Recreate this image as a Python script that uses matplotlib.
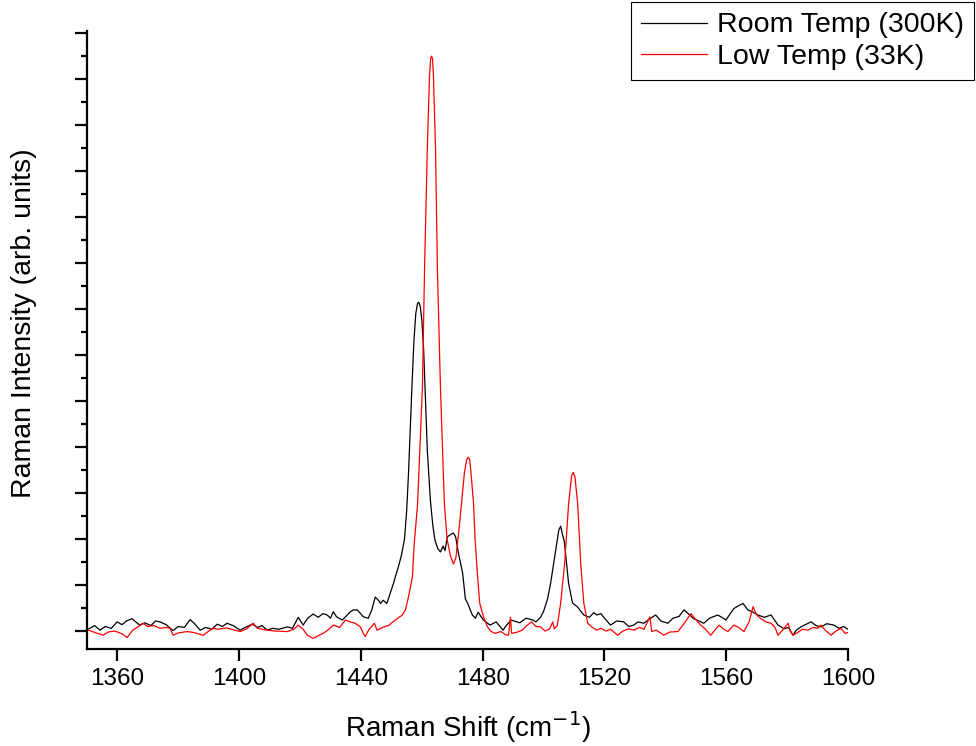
import matplotlib
matplotlib.use("Agg")
from matplotlib import pyplot as plt
from matplotlib.ticker import MultipleLocator, NullFormatter

plt.rcParams["font.family"] = ["Liberation Sans", "DejaVu Sans"]

# Room temperature (300K) spectrum (cm-1, counts)
room_shift = [
    1350.0, 1351.0, 1352.5, 1354.3, 1356.0, 1358.0, 1359.9, 1361.5, 1363.0, 1364.8,
    1366.0, 1367.4, 1369.0, 1371.0, 1372.5, 1374.0, 1376.0, 1378.3, 1380.0, 1382.0,
    1383.9, 1385.5, 1387.2, 1389.0, 1391.0, 1392.8, 1394.5, 1396.0, 1398.0, 1400.3,
    1402.0, 1404.3, 1406.0, 1407.5, 1409.2, 1411.0, 1413.0, 1415.8, 1417.5, 1419.4,
    1421.0, 1422.5, 1424.3, 1426.0, 1427.5, 1428.9, 1430.0, 1430.9, 1432.0, 1433.9,
    1436.5, 1437.5, 1438.8, 1440.8, 1442.4, 1443.5, 1444.7, 1446.0, 1446.4, 1447.3,
    1448.5, 1449.4, 1450.7, 1451.3, 1452.3, 1453.3, 1454.3, 1455.0, 1455.6, 1456.2,
    1456.8, 1457.4, 1458.0, 1458.6, 1459.0, 1459.5, 1460.0, 1460.6, 1461.2, 1461.8,
    1462.8, 1463.6, 1464.3, 1465.2, 1466.1, 1467.0, 1467.6,
    1468.4, 1469.7, 1470.4, 1471.1, 1472.0, 1473.4, 1474.3, 1475.0, 1476.6, 1477.6,
    1478.5, 1480.2, 1482.4, 1484.4, 1486.7, 1487.5, 1489.3, 1492.2, 1494.2, 1496.5,
    1497.5, 1499.0, 1500.0, 1501.3, 1502.3, 1504.3, 1505.0, 1505.6, 1506.2, 1506.8,
    1508.2, 1509.5, 1511.2, 1512.0, 1513.2, 1515.0, 1516.5, 1517.5, 1518.8, 1520.0,
    1522.0, 1524.0, 1526.3, 1528.0, 1529.6, 1531.0, 1532.9, 1534.5, 1536.8, 1538.5,
    1540.8, 1542.5, 1544.5, 1546.1, 1547.5, 1549.3, 1551.0, 1552.6, 1554.5, 1557.2,
    1558.5, 1559.9, 1561.0, 1562.5, 1564.0, 1565.5, 1567.1, 1568.5, 1570.4, 1572.5,
    1574.7, 1577.0, 1579.0, 1580.5, 1581.9, 1583.0, 1584.5, 1586.0, 1587.8, 1589.5,
    1591.1, 1593.0, 1595.4, 1597.0, 1598.5, 1600.0,
]
room_counts = [
    4, 6, 12, 2, 10, 6, 20, 14, 22, 27,
    20, 13, 18, 12, 22, 20, 14, 1, 10, 8,
    25, 15, 2, 8, 4, 15, 10, 17, 12, 2,
    8, 15, 8, 12, 2, 6, 4, 9, 6, 30,
    13, 28, 37, 30, 38, 35, 28, 42, 31, 24,
    42, 46, 46, 31, 28, 45, 74, 65, 60, 67,
    60, 78, 104, 118, 140, 165, 200, 260, 340, 440,
    540, 630, 690, 713, 715, 705, 676, 611, 502, 393,
    285, 230, 198, 180, 172, 185, 175,
    205, 211, 213, 205, 170, 126, 70, 61, 35, 28,
    41, 24, 13, 20, 2, 10, 24, 18, 28, 24,
    20, 30, 43, 70, 104, 189, 220, 228, 210, 195,
    104, 61, 52, 45, 35, 30, 40, 35, 38, 28,
    13, 22, 20, 10, 13, 20, 17, 25, 35, 22,
    17, 28, 32, 46, 38, 27, 22, 17, 28, 35,
    30, 24, 35, 49, 55, 60, 46, 42, 35, 30,
    35, 13, 5, 8, -9, 2, 9, 14, 20, 12,
    9, 16, 13, 6, 10, 4,
]

# Low temperature (33K) spectrum
low_shift = [
    1350.0, 1351.0, 1353.0, 1355.3, 1357.0, 1359.0, 1360.0, 1361.5, 1363.2, 1365.0,
    1366.5, 1368.4, 1370.0, 1372.0, 1374.0, 1376.0, 1377.3, 1378.3, 1380.0, 1382.9,
    1385.0, 1388.2, 1390.0, 1391.4, 1393.0, 1396.0, 1398.0, 1400.3, 1402.5, 1404.6,
    1406.0, 1409.2, 1412.0, 1415.8, 1418.0, 1419.4, 1421.0, 1422.4, 1424.3, 1426.0,
    1427.6, 1429.5, 1430.9, 1433.0, 1434.9, 1436.5, 1438.1, 1439.8, 1440.8, 1441.4,
    1442.5, 1444.4, 1445.3, 1447.5, 1449.0, 1451.3, 1453.6, 1454.6, 1455.6, 1456.9,
    1457.5, 1458.6, 1460.2, 1460.9, 1461.8, 1462.5, 1462.9, 1463.2, 1463.5, 1463.8,
    1464.5, 1465.1, 1466.1, 1467.4, 1468.3, 1469.4, 1470.4, 1471.2, 1472.4, 1473.0,
    1474.0, 1474.7, 1475.2, 1475.7, 1476.2, 1477.0, 1477.5, 1478.3, 1479.0, 1480.3,
    1481.5, 1482.6, 1484.0, 1486.0, 1487.5, 1488.5, 1489.1, 1489.5, 1491.0, 1493.0,
    1494.5, 1496.0, 1497.5, 1499.0, 1500.5, 1502.0, 1503.0, 1503.5, 1504.5, 1505.6,
    1506.9, 1508.2, 1509.2, 1509.7, 1510.3, 1511.2, 1512.2, 1513.2, 1514.5, 1516.0,
    1517.5, 1518.8, 1520.5, 1522.0, 1524.3, 1526.0, 1528.0, 1529.6, 1531.5, 1533.0,
    1534.9, 1535.5, 1537.0, 1539.5, 1541.5, 1544.1, 1546.0, 1548.4, 1550.0, 1551.6,
    1553.0, 1554.9, 1556.5, 1557.6, 1559.0, 1560.5, 1562.5, 1564.0, 1565.8, 1567.5,
    1568.8, 1570.0, 1571.4, 1573.0, 1574.7, 1576.0, 1577.0, 1578.5, 1580.3, 1581.0,
    1581.9, 1583.5, 1585.0, 1586.8, 1588.5, 1590.0, 1591.1, 1592.5, 1594.4, 1596.0,
    1597.7, 1599.0, 1600.0,
]
low_counts = [
    2, 1, -4, -9, -2, 0, -2, -6, -14, 2,
    8, 17, 10, 12, 6, 8, 6, -9, -4, -1,
    -3, -9, 0, 6, 4, 7, 3, -1, 5, 17,
    6, 2, 0, -1, 4, 13, 4, -9, -16, -10,
    -5, 4, 13, 8, 24, 20, 17, 9, -5, -12,
    2, 17, 2, 9, 12, 24, 35, 46, 74, 118,
    190, 276, 532, 791, 1048, 1205, 1245, 1250, 1245, 1210,
    1048, 791, 532, 276, 200, 163, 146, 160, 233, 276,
    345, 372, 378, 374, 340, 276, 198, 120, 61, 30,
    10, 0, -5, -1, -8, -9, 30, -5, -3, 2,
    12, 20, 10, 9, 0, 5, 20, 5, 12, 61,
    146, 276, 338, 345, 335, 276, 146, 61, 17, 8,
    2, 6, 0, 4, -9, 0, 5, 2, 8, 4,
    31, -1, 2, -9, -2, -1, 15, 38, 25, 13,
    5, -9, 4, 13, 5, -1, 13, 8, -1, 20,
    53, 35, 27, 20, 17, 8, -9, 2, 17, 0,
    -9, -3, 4, 2, 8, 6, 13, 2, -9, 0,
    6, -5, -3,
]

x_ticks = [1360, 1400, 1440, 1480, 1520, 1560, 1600]

fig = plt.figure(figsize=(9.76, 7.46), dpi=100)
ax = fig.add_axes([0.0891, 0.130, 0.7798, 0.828])

ax.plot(room_shift, room_counts, color="black", lw=0.9, label="Room Temp (300K)")
ax.plot(low_shift, low_counts, color="#ff0000", lw=0.9, label="Low Temp (33K)")

ax.set_xlim(1350, 1600)
ax.set_ylim(-39, 1304)
ax.set_xticks(x_ticks)
ax.yaxis.set_major_locator(MultipleLocator(100))
ax.yaxis.set_minor_locator(MultipleLocator(50))
ax.yaxis.set_major_formatter(NullFormatter())

for side in ["top", "right"]:
    ax.spines[side].set_visible(False)
for side in ["left", "bottom"]:
    ax.spines[side].set_linewidth(1.6)

ax.tick_params(axis="both", which="major", direction="out", length=8.5, width=1.6,
               labelsize=17.5)
ax.tick_params(axis="y", which="minor", direction="out", length=4.5, width=1.6)
ax.tick_params(axis="x", pad=5)

ax.set_xlabel("Raman Shift (cm$^{-1}$)", fontsize=20, labelpad=14)
ax.set_ylabel("Raman Intensity (arb. units)", fontsize=20.5)
ax.yaxis.set_label_coords(-0.066, 0.527)

leg = fig.legend(loc="upper right", bbox_to_anchor=(0.998, 0.997), fontsize=20.5,
                 frameon=True, fancybox=False, edgecolor="black", framealpha=1,
                 handlelength=2.3, handletextpad=0.35, borderpad=0.36,
                 labelspacing=0.2, borderaxespad=0)
leg.get_frame().set_linewidth(0.8)

fig.savefig("out.png", dpi=100)
